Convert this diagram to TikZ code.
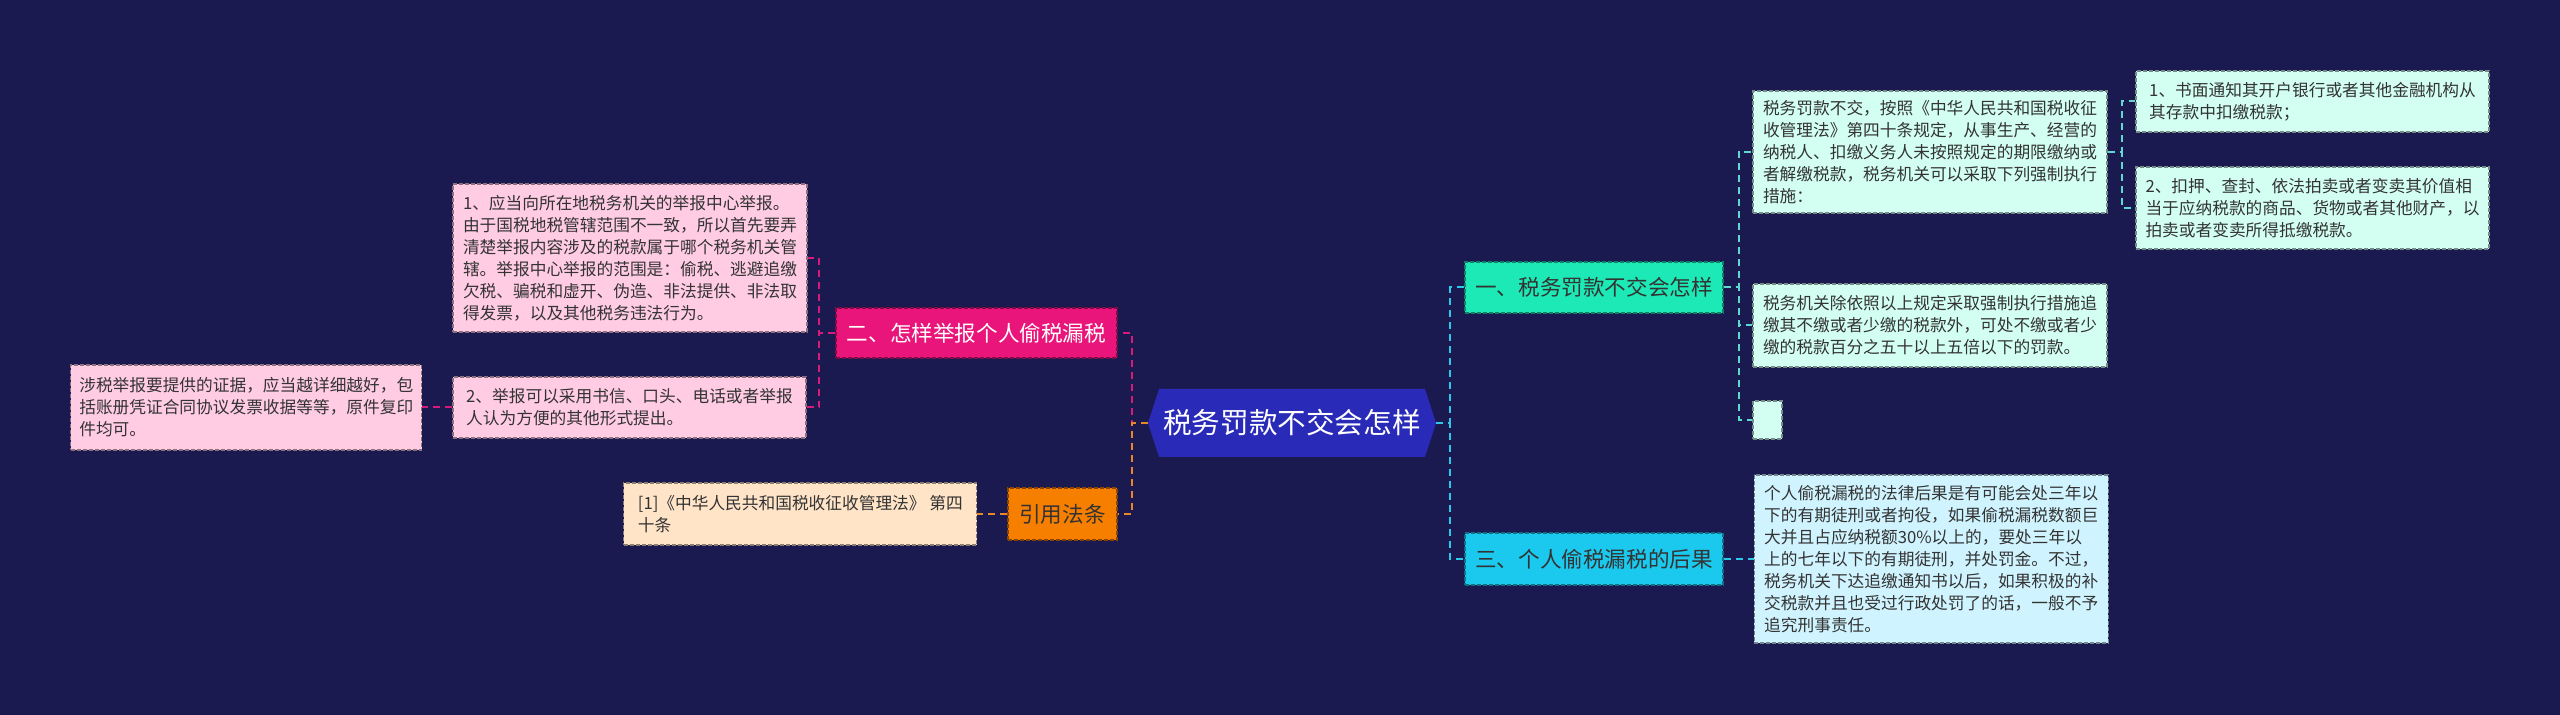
\documentclass[tikz,border=0pt]{standalone}
\usepackage{fontspec}
\setmainfont{Noto Sans CJK SC}
\usetikzlibrary{positioning,shapes.symbols}

\definecolor{bg}{HTML}{1B1A50}
\definecolor{rootblue}{HTML}{2A2AB8}
\definecolor{magenta}{HTML}{E9157A}
\definecolor{orangeb}{HTML}{F77F00}
\definecolor{pinkl}{HTML}{FFCCE4}
\definecolor{peach}{HTML}{FFE4C8}
\definecolor{aqua}{HTML}{1DE9B6}
\definecolor{cyanb}{HTML}{1BC9EE}
\definecolor{mint}{HTML}{D3FFF2}
\definecolor{icecyan}{HTML}{D0F4FF}
\definecolor{txt}{HTML}{333333}
\definecolor{lnmag}{HTML}{D81B7A}
\definecolor{lnorange}{HTML}{E8862A}
\definecolor{lncyan}{HTML}{2BC8E8}
\definecolor{lnaqua}{HTML}{5FD8D0}

\begin{document}
\begin{tikzpicture}[x=0.5pt,y=-0.5pt,
  every node/.style={font=\fontsize{8.35pt}{11pt}\selectfont,align=left,inner sep=0pt,text=txt},
  leaf/.style={fill=#1,draw=#1!55!black,dash pattern=on 2pt off 1pt,line width=0.6pt},
  topic/.style={leaf=#1,font=\fontsize{10.8pt}{13pt}\selectfont},
  link/.style={draw=#1,dash pattern=on 3.5pt off 2.5pt,line width=1pt}]
  \fill[bg] (0,0) rectangle (2560,715);

  % centre
  \node[signal,signal to=east and west,signal pointer angle=144,fill=rootblue,text=white,
        minimum width=144pt,minimum height=34pt,font=\fontsize{14.3pt}{17pt}\selectfont] (root) at (1292,423) {税务罚款不交会怎样};

  % left side
  \node[topic=magenta,text=white,minimum width=140.5pt,minimum height=25pt] (two) at (976.5,333) {二、怎样举报个人偷税漏税};
  \node[topic=orangeb,minimum width=54.5pt,minimum height=26pt] (law) at (1062.5,514) {引用法条};
  \node[leaf=pinkl,minimum width=177pt,minimum height=74pt] (p1) at (630,258) {1、应当向所在地税务机关的举报中心举报。\\由于国税地税管辖范围不一致，所以首先要弄\\清楚举报内容涉及的税款属于哪个税务机关管\\辖。举报中心举报的范围是：偷税、逃避追缴\\欠税、骗税和虚开、伪造、非法提供、非法取\\得发票，以及其他税务违法行为。};
  \node[leaf=pinkl,minimum width=176.5pt,minimum height=30.5pt] (p2) at (629.5,407.5) {2、举报可以采用书信、口头、电话或者举报\\人认为方便的其他形式提出。};
  \node[leaf=pinkl,minimum width=175.5pt,minimum height=42.5pt] (pl) [left=15pt of p2] {涉税举报要提供的证据，应当越详细越好，包\\括账册凭证合同协议发票收据等等，原件复印\\件均可。};
  \node[leaf=peach,minimum width=176.5pt,minimum height=31pt] (cite) [left=15pt of law] {[1]《中华人民共和国税收征收管理法》 第四\\十条};

  % right side
  \node[topic=aqua,minimum width=129pt,minimum height=25.5pt] (one) at (1594,287.5) {一、税务罚款不交会怎样};
  \node[topic=cyanb,minimum width=129pt,minimum height=26pt] (three) at (1594,559) {三、个人偷税漏税的后果};
  \node[leaf=mint,minimum width=177pt,minimum height=61pt] (a) at (1930,152) {税务罚款不交，按照《中华人民共和国税收征\\收管理法》第四十条规定，从事生产、经营的\\纳税人、扣缴义务人未按照规定的期限缴纳或\\者解缴税款，税务机关可以采取下列强制执行\\措施：};
  \node[leaf=mint,minimum width=176.5pt,minimum height=30.5pt] (a1) at (2312.5,101.5) {1、书面通知其开户银行或者其他金融机构从\\其存款中扣缴税款；};
  \node[leaf=mint,minimum width=176.5pt,minimum height=41pt] (a2) at (2312.5,208) {2、扣押、查封、依法拍卖或者变卖其价值相\\当于应纳税款的商品、货物或者其他财产，以\\拍卖或者变卖所得抵缴税款。};
  \node[leaf=mint,minimum width=177pt,minimum height=41.5pt] (b) at (1930,325.5) {税务机关除依照以上规定采取强制执行措施追\\缴其不缴或者少缴的税款外，可处不缴或者少\\缴的税款百分之五十以上五倍以下的罚款。};
  \node[leaf=mint,minimum width=14.5pt,minimum height=19pt] (c) at (1767.5,420) {};
  \node[leaf=icecyan,minimum width=177pt,minimum height=84pt] (d) [right=15pt of three] {个人偷税漏税的法律后果是有可能会处三年以\\下的有期徒刑或者拘役，如果偷税漏税数额巨\\大并且占应纳税额30\%以上的，要处三年以\\上的七年以下的有期徒刑，并处罚金。不过，\\税务机关下达追缴通知书以后，如果积极的补\\交税款并且也受过行政处罚了的话，一般不予\\追究刑事责任。};

  % connectors
  \draw[link=lnmag] (root.west) -- ++(-16,0) |- (two.east);
  \draw[link=lnorange] (root.west) -- ++(-16,0) |- (law.east);
  \draw[link=lnmag] (two.west) -- ++(-16,0) |- (p1.east);
  \draw[link=lnmag] (two.west) -- ++(-16,0) |- (p2.east);
  \draw[link=lnmag] (p2.west) -- (pl.east);
  \draw[link=lnorange] (law.west) -- (cite.east);
  \draw[link=lncyan] (root.east) -- ++(14,0) |- (one.west);
  \draw[link=lncyan] (root.east) -- ++(14,0) |- (three.west);
  \draw[link=lnaqua] (one.east) -- ++(15,0) |- (a.west);
  \draw[link=lnaqua] (one.east) -- ++(15,0) |- (b.west);
  \draw[link=lnaqua] (one.east) -- ++(15,0) |- (c.west);
  \draw[link=lnaqua] (a.east) -- ++(14,0) |- (a1.west);
  \draw[link=lnaqua] (a.east) -- ++(14,0) |- (a2.west);
  \draw[link=lncyan] (three.east) -- (d.west);
\end{tikzpicture}
\end{document}
